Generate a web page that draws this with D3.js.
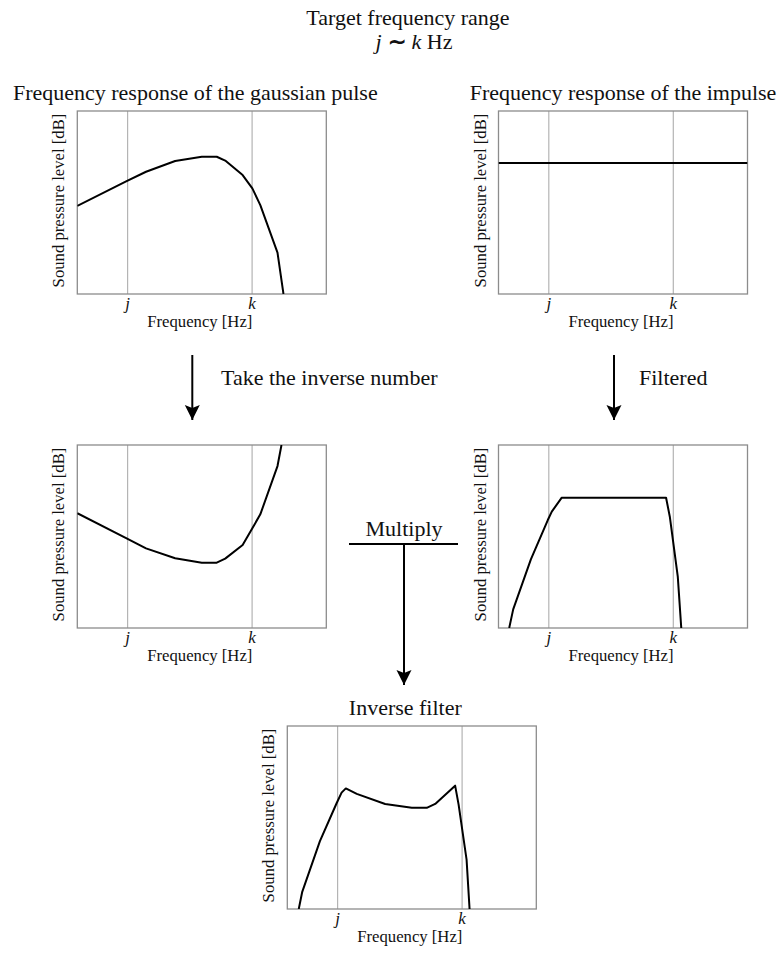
<!DOCTYPE html>
<html>
<head>
<meta charset="utf-8">
<script src="https://cdn.jsdelivr.net/npm/d3@7"></script>
<style>
  body { margin: 0; background: #fff; }
  svg text { font-family: "Liberation Serif", "Times New Roman", serif; fill: #111; }
</style>
</head>
<body>
<div id="Area"></div>
<script>
// frequency axis: j and k are the only ticks
const tickFreqs = [2, 7];
const tickLabels = ["j", "k"];

// Frequency response of the gaussian pulse
const gaussFreq  = [0, 1.98, 2.76, 3.93, 5.0, 5.6, 5.94, 6.64, 7.03, 7.35, 8.04, 8.28];
const gaussLevel = [0.481, 0.617, 0.668, 0.727, 0.75, 0.75, 0.729, 0.65, 0.577, 0.486, 0.226, 0];

// Frequency response of the impulse (flat)
const impulseFreq  = [0, 10];
const impulseLevel = [0.716, 0.716];

// inverse of the gaussian response
const inverseFreq  = [0, 1.98, 2.76, 3.93, 5.0, 5.6, 5.94, 6.64, 7.03, 7.35, 8.04, 8.2];
const inverseLevel = [0.627, 0.49, 0.435, 0.381, 0.357, 0.357, 0.379, 0.454, 0.545, 0.621, 0.885, 1.0];

// band filtered impulse
const filteredFreq  = [0.43, 0.59, 1.30, 1.98, 2.14, 2.54, 6.73, 6.88, 7.20, 7.34];
const filteredLevel = [0, 0.102, 0.375, 0.59, 0.636, 0.712, 0.712, 0.608, 0.281, 0];

// inverse filter = inverse * filtered
const invFilterFreq  = [0.46, 0.60, 1.31, 1.98, 2.18, 2.35, 2.79, 3.93, 5.0, 5.6, 5.94, 6.74, 6.88, 7.20, 7.32];
const invFilterLevel = [0, 0.094, 0.371, 0.578, 0.636, 0.659, 0.629, 0.574, 0.553, 0.553, 0.574, 0.674, 0.57, 0.27, 0];

const W = 781, H = 953;
const pw = 249, ph = 183;

const svg = d3.select("#Area").append("svg")
    .attr("width", W)
    .attr("height", H);

// arrow head
svg.append("defs").append("marker")
    .attr("id", "head")
    .attr("viewBox", "-8 -15 16 16")
    .attr("refX", 0).attr("refY", 0)
    .attr("markerUnits", "userSpaceOnUse")
    .attr("markerWidth", 16).attr("markerHeight", 16)
    .attr("orient", "0")
  .append("path")
    .attr("d", "M0,0 L-7.5,-15 L0,-12 L7.5,-15 Z")
    .attr("fill", "#000");

const x = d3.scaleLinear().domain([0, 10]).range([0, pw]);
const y = d3.scaleLinear().domain([0, 1]).range([ph, 0]);

function panel(left, top, freq, level, title, titleShift) {
  const g = svg.append("g").attr("transform", `translate(${left},${top})`);

  // grid at j and k, with italic labels
  const ax = g.append("g")
      .attr("transform", `translate(0,${ph})`)
      .call(d3.axisBottom(x)
        .tickValues(tickFreqs)
        .tickSize(-ph)
        .tickPadding(3)
        .tickFormat((d, i) => tickLabels[i]));
  ax.select(".domain").remove();
  ax.selectAll("line").attr("stroke", "#b4b4b4").attr("stroke-width", 1.2);
  ax.selectAll("text")
      .attr("fill", "#111")
      .style("font-family", '"Liberation Serif", "Times New Roman", serif')
      .style("font-style", "italic")
      .style("font-size", "17px");

  // frame
  g.append("rect")
      .attr("width", pw).attr("height", ph)
      .attr("fill", "none")
      .attr("stroke", "#8c8c8c")
      .attr("stroke-width", 1.3);

  const clipId = "c" + Math.round(left) + "_" + Math.round(top);
  g.append("clipPath").attr("id", clipId)
    .append("rect").attr("width", pw).attr("height", ph);

  const pts = freq.map((f, i) => [f, level[i]]);
  g.append("path")
      .datum(pts)
      .attr("clip-path", `url(#${clipId})`)
      .attr("d", d3.line().x(d => x(d[0])).y(d => y(d[1])))
      .attr("fill", "none")
      .attr("stroke", "#000")
      .attr("stroke-width", 2)
      .attr("stroke-linejoin", "round");

  // x label
  g.append("text")
      .attr("x", pw / 2 - 2)
      .attr("y", ph + 33)
      .attr("text-anchor", "middle")
      .style("font-size", "16.7px")
      .text("Frequency [Hz]");

  // y label
  g.append("text")
      .attr("transform", `translate(-13,${ph / 2 - 2}) rotate(-90)`)
      .attr("text-anchor", "middle")
      .style("font-size", "16.7px")
      .text("Sound pressure level [dB]");

  if (title) {
    g.append("text")
        .attr("x", pw / 2 + titleShift)
        .attr("y", -11)
        .attr("text-anchor", "middle")
        .style("font-size", "22px")
        .text(title);
  }
}

panel(77.3, 111, gaussFreq, gaussLevel, "Frequency response of the gaussian pulse", -6.5);
panel(498.5, 111, impulseFreq, impulseLevel, "Frequency response of the impulse", 0);
panel(77.3, 445, inverseFreq, inverseLevel, null, 0);
panel(498.5, 445, filteredFreq, filteredLevel, null, 0);
panel(287.3, 726, invFilterFreq, invFilterLevel, "Inverse filter", -6.5);

// top heading
svg.append("text")
    .attr("x", 408).attr("y", 25)
    .attr("text-anchor", "middle")
    .style("font-size", "22px")
    .text("Target frequency range");

const sub = svg.append("text")
    .attr("x", 414).attr("y", 49)
    .attr("text-anchor", "middle")
    .style("font-size", "22px");
sub.append("tspan").style("font-style", "italic").text("j");
sub.append("tspan").attr("dx", 6).style("font-weight", "bold").text("\u223C");
sub.append("tspan").attr("dx", 6).style("font-style", "italic").text("k");
sub.append("tspan").text(" Hz");

// arrows between steps
function arrow(x0, y0, x1, y1) {
  svg.append("line")
      .attr("x1", x0).attr("y1", y0)
      .attr("x2", x1).attr("y2", y1)
      .attr("stroke", "#000")
      .attr("stroke-width", 2)
      .attr("marker-end", "url(#head)");
}

arrow(192.3, 355, 192.3, 420);
arrow(614, 355, 614, 420);

svg.append("text")
    .attr("x", 221).attr("y", 385)
    .style("font-size", "22px")
    .text("Take the inverse number");

svg.append("text")
    .attr("x", 639).attr("y", 385)
    .style("font-size", "22px")
    .text("Filtered");

// multiply junction
svg.append("line")
    .attr("x1", 349).attr("x2", 458)
    .attr("y1", 544).attr("y2", 544)
    .attr("stroke", "#000").attr("stroke-width", 2);
arrow(404, 544, 404, 685);

svg.append("text")
    .attr("x", 404).attr("y", 536)
    .attr("text-anchor", "middle")
    .style("font-size", "22px")
    .text("Multiply");
</script>
</body>
</html>
